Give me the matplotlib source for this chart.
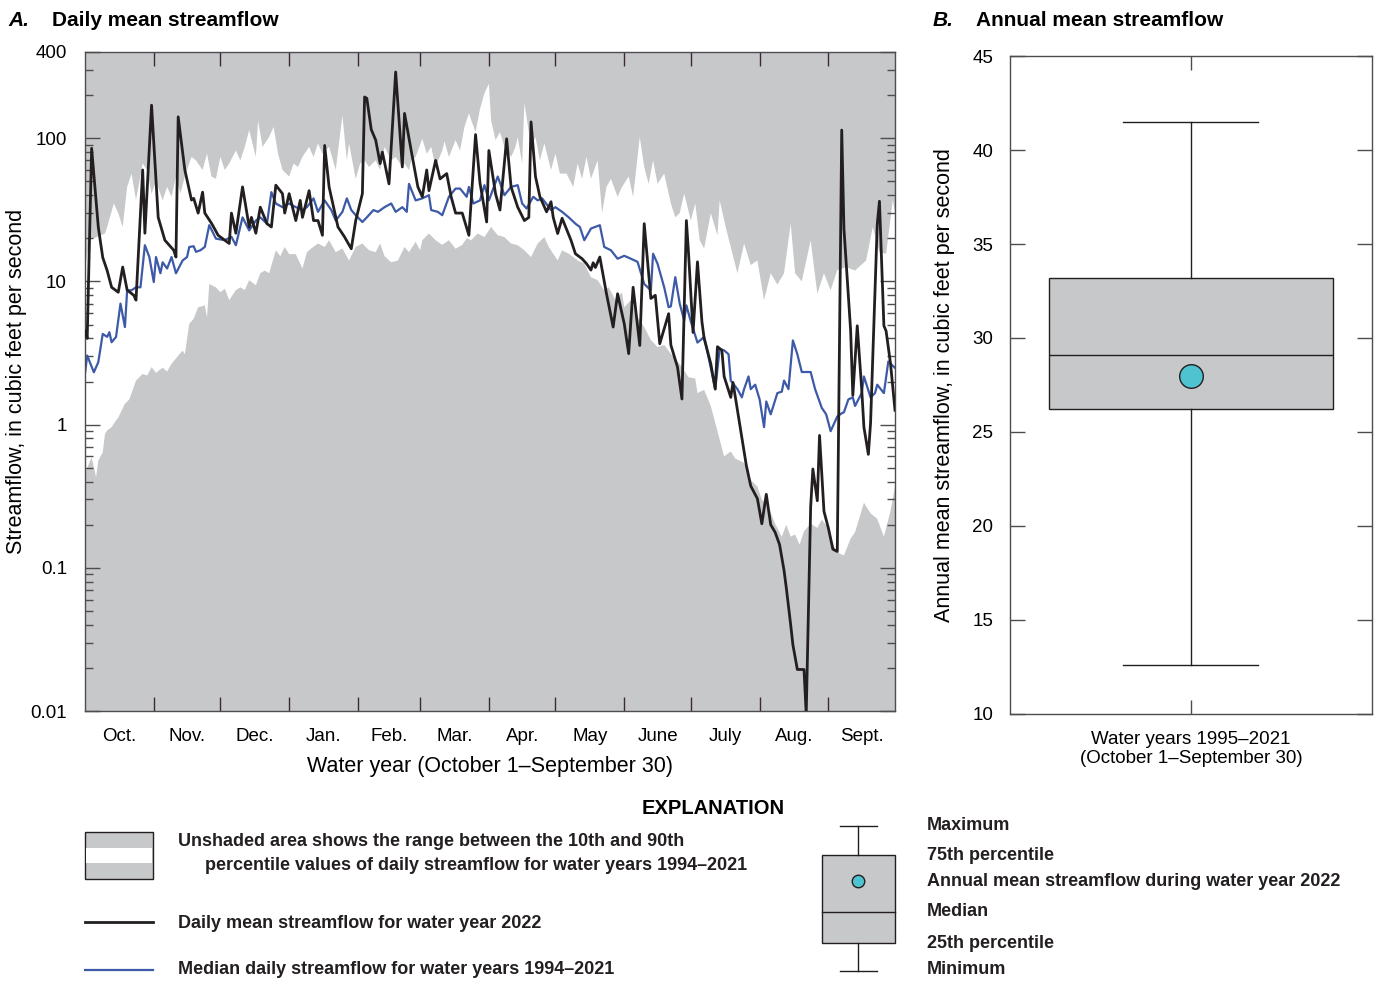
import matplotlib
matplotlib.use('Agg')
import matplotlib.pyplot as plt
import numpy as np
from matplotlib.patches import Rectangle
from matplotlib.ticker import FixedLocator, NullFormatter, LogLocator

plt.rcParams['font.family'] = ['Liberation Sans', 'DejaVu Sans']

# ---------------------------------------------------------------- data
# day of water year (0 = Oct 1) and flow (ft3/s)
day_2022 = [0, 1, 3, 6, 8, 10, 12, 15, 17, 19, 22, 23, 26, 27, 30, 33, 36, 40, 41, 42,
            45, 48, 49, 51, 53, 54, 57, 60, 65, 66, 68, 71, 74, 75, 77, 79, 82, 84, 86, 89,
            90, 92, 95, 97, 98, 101, 103, 105, 107, 108, 110, 114, 117, 120, 122, 125, 126, 127, 129, 131,
            133, 134, 137, 140, 143, 144, 147, 150, 152, 154, 155, 158, 160, 163, 165, 167, 170, 173, 176, 178,
            181, 182, 185, 187, 190, 192, 195, 198, 200, 201, 203, 205, 208, 210, 211, 213, 215, 219, 221, 224,
            226, 228, 229, 230, 232, 235, 238, 240, 243, 245, 247, 250, 252, 255, 257, 259, 263, 264, 267, 269,
            271, 272, 274, 276, 278, 279, 282, 284, 285, 287, 288, 291, 292, 294, 297, 298, 300, 303, 305, 307,
            309, 311, 313, 315, 316, 318, 319, 321, 324, 325, 327, 328, 330, 331, 333, 335, 337, 339, 341, 342,
            345, 346, 348, 350, 351, 353, 354, 357, 358, 360, 361, 363, 365]
flow_2022 = [4.5, 4.0, 85, 24, 14.7, 11.9, 9.1, 8.4, 12.6, 8.7, 8.0, 7.4, 60, 21.7, 170, 28, 19.4, 16.5, 14.8, 141,
             60, 37, 38, 30, 42, 30, 25.5, 21, 18.4, 30, 21.7, 45.7, 24, 28, 21.7, 33, 25.3, 24, 47, 41,
             30, 41, 26.6, 36.8, 28, 43, 26.6, 26.6, 21, 89, 45.7, 24, 20.4, 16.9, 26.6, 41, 194, 190, 115, 97,
             66.5, 80, 48, 290, 63, 149, 82, 45.7, 39, 60, 43, 70, 52, 56.6, 39, 30, 30, 21, 106, 48.6,
             26, 82, 41, 31.5, 99, 45.7, 33, 26.6, 28, 130, 54, 39, 30.6, 36, 28, 21.6, 27.6, 19.4, 15.6, 14.4,
             13.3, 12, 13.5, 12.5, 14.8, 8.2, 4.8, 8.2, 5.06, 3.13, 9.1, 3.57, 25.3, 7.6, 8.0, 3.67, 5.95, 3.6, 2.52, 1.51,
             26.6, 15.5, 4.4, 13.7, 5.25, 4.0, 2.66, 1.77, 3.5, 3.3, 2.17, 1.55, 1.97, 1.26, 0.64, 0.52, 0.373, 0.304, 0.203, 0.326,
             0.2, 0.177, 0.145, 0.096, 0.073, 0.040, 0.029, 0.0195, 0.0195, 0.0095, 0.266, 0.49, 0.294, 0.84, 0.248, 0.189, 0.135, 0.13, 114, 23.3,
             4.58, 1.6, 4.9, 1.77, 0.96, 0.62, 1.03, 25, 36.3, 4.9, 4.5, 2.66, 1.26]

day_med = [0, 1, 4, 6, 8, 10, 11, 12, 14, 16, 18, 19, 21, 23, 25, 27, 29, 31, 32, 34,
           35, 37, 39, 41, 44, 46, 47, 49, 50, 52, 54, 56, 59, 63, 66, 68, 71, 74, 77, 79,
           82, 84, 86, 89, 92, 95, 98, 100, 103, 105, 108, 111, 113, 116, 118, 120, 122, 125, 127, 130,
           132, 135, 138, 140, 143, 145, 146, 149, 152, 155, 156, 159, 161, 164, 167, 169, 172, 173, 175, 178,
           180, 182, 186, 189, 192, 195, 197, 199, 202, 204, 206, 210, 212, 215, 218, 221, 223, 225, 228, 232,
           234, 237, 240, 243, 246, 249, 252, 255, 256, 258, 261, 263, 264, 266, 268, 270, 271, 273, 276, 279,
           280, 282, 284, 286, 288, 290, 291, 294, 296, 297, 299, 300, 302, 304, 306, 307, 309, 312, 314, 315,
           317, 319, 321, 323, 327, 329, 332, 334, 336, 339, 341, 342, 344, 346, 347, 350, 351, 354, 356, 357,
           360, 362, 365]
flow_med = [2.27, 3.04, 2.32, 2.73, 4.3, 4.1, 4.42, 3.76, 4.1, 7.0, 4.8, 8.67, 8.67, 9.1, 9.1, 17.9, 14.8, 9.9, 14.8, 11.4,
            13.6, 12.3, 14.8, 11.4, 14, 14.8, 17.4, 17.6, 16.1, 16.5, 17.4, 24.7, 19.9, 19.4, 20.5, 17.9, 28, 22.7, 26.6, 28,
            25.3, 42, 35, 33, 35, 33, 31.5, 33, 38, 30.6, 36.8, 31.5, 26.6, 30.6, 38, 31.5, 29, 26, 28, 31.5,
            30.6, 33, 35, 30.6, 33, 30.6, 48, 36.8, 38, 40, 31.5, 30.6, 29, 39, 44.5, 44.5, 39, 45.7, 35, 36.8,
            47, 36.8, 54, 40, 45.7, 47, 35, 32.3, 39, 36.8, 38, 31.5, 33, 30.6, 28, 25.3, 24, 19.4, 23.4, 24.7,
            17.4, 16.5, 14.4, 15.1, 14.4, 13.7, 9.6, 8.67, 15.6, 13.3, 9.1, 6.6, 6.7, 10.7, 7.0, 5.34, 6.8, 5.25, 3.74, 4.1,
            3.5, 2.49, 1.77, 3.38, 3.3, 3.1, 2.03, 1.77, 1.55, 1.77, 2.17, 1.77, 1.9, 1.5, 0.96, 1.45, 1.18, 1.66, 1.7, 2.03,
            1.77, 3.87, 3.1, 2.33, 2.33, 1.77, 1.31, 1.18, 0.90, 1.14, 1.2, 1.22, 1.5, 1.55, 1.35, 1.66, 2.17, 1.55, 1.66, 1.9,
            1.66, 2.76, 2.49]

day_p90 = [0, 2, 4, 9, 10, 13, 15, 17, 19, 21, 23, 26, 28, 30, 32, 35, 37, 39, 41, 43,
           45, 48, 50, 53, 55, 57, 59, 61, 63, 65, 68, 70, 72, 74, 77, 78, 80, 83, 85, 87,
           89, 92, 93, 94, 96, 98, 101, 103, 105, 107, 110, 113, 116, 118, 119, 122, 124, 126, 128, 131,
           133, 135, 138, 140, 143, 144, 146, 147, 149, 152, 154, 156, 158, 161, 162, 164, 167, 169, 171, 173,
           176, 178, 180, 182, 183, 185, 187, 189, 192, 194, 195, 197, 198, 201, 203, 205, 207, 210, 212, 214,
           217, 220, 222, 224, 226, 228, 231, 233, 235, 237, 240, 242, 245, 247, 250, 252, 254, 256, 258, 261,
           264, 266, 268, 270, 273, 275, 277, 279, 282, 285, 286, 289, 294, 297, 300, 303, 306, 309, 312, 315,
           318, 320, 323, 327, 330, 333, 336, 339, 343, 347, 352, 355, 358, 361, 364, 365]
flow_p90 = [12, 20, 20, 21.6, 24, 35, 30, 24, 45.7, 56.6, 37, 66.6, 60, 41, 50, 36.8, 45.7, 39, 54, 41,
            54, 74, 70, 60, 78, 54, 52, 74, 60, 66.6, 82, 70, 87, 114, 74, 133, 87, 102, 120, 78,
            60, 54, 60, 66.6, 63, 74, 87, 74, 92, 78, 87, 60, 144, 70, 92, 52, 66.6, 70, 63, 70,
            60, 87, 70, 74, 63, 66.6, 60, 70, 74, 99, 78, 87, 63, 82, 95, 74, 97, 82, 120, 149,
            110, 160, 206, 240, 133, 97, 110, 87, 74, 87, 102, 66.6, 176, 87, 102, 70, 92, 60, 78, 56.6,
            56.6, 45.7, 66.6, 52, 74, 52, 70, 30, 45.7, 52, 39, 45.7, 54, 39, 102, 63, 48, 70, 48, 56.6,
            35, 28, 30, 41, 26.6, 35, 19.4, 17, 30, 21, 36.8, 23, 11.4, 18.4, 13, 14, 7.4, 11.4, 9.5, 11.4,
            25.3, 11.4, 10, 19.4, 8.2, 11.4, 8.67, 12, 12.6, 11.9, 14, 24, 16, 15.6, 36.8, 30]

day_p10 = [0, 1, 3, 5, 6, 8, 9, 10, 12, 14, 15, 18, 20, 23, 26, 28, 30, 32, 35, 37,
           39, 41, 44, 45, 47, 49, 51, 54, 55, 56, 59, 61, 63, 65, 68, 70, 72, 74, 77, 79,
           81, 83, 86, 88, 90, 92, 95, 98, 100, 102, 105, 108, 110, 113, 116, 119, 122, 125, 128, 131,
           133, 135, 138, 141, 144, 146, 149, 151, 152, 155, 158, 161, 164, 167, 170, 172, 174, 177, 180, 183,
           186, 189, 192, 195, 198, 201, 204, 207, 209, 211, 213, 215, 218, 220, 222, 225, 228, 231, 234, 236,
           239, 242, 243, 246, 249, 252, 255, 258, 261, 264, 266, 269, 272, 275, 276, 279, 282, 285, 288, 291,
           293, 297, 300, 303, 305, 308, 311, 314, 316, 318, 320, 322, 324, 327, 330, 332, 335, 338, 340, 342,
           345, 347, 351, 354, 357, 360, 363, 365]
flow_p10 = [0.45, 0.50, 0.59, 0.43, 0.56, 0.64, 0.86, 0.91, 0.96, 1.07, 1.12, 1.4, 1.5, 2.03, 2.26, 2.2, 2.52, 2.3, 2.5, 2.35,
            2.66, 2.9, 3.29, 3.1, 5.06, 5.5, 6.6, 6.8, 5.6, 9.6, 9.1, 8.4, 8.9, 7.4, 8.7, 9.1, 8.7, 10.2, 9.4, 11.4,
            11.9, 11.4, 16.5, 15, 17.4, 15.5, 15.5, 12.3, 16, 17, 18.4, 17.4, 19.4, 16, 17, 14, 17.4, 18.4, 16.5, 16,
            18.4, 15, 13.6, 14, 17.4, 16, 18.9, 16.5, 19.4, 21.6, 19.4, 18, 19.4, 16.9, 18, 20, 19.4, 21.6, 20.4, 24,
            21, 20.4, 18.4, 17.9, 16.5, 14.8, 18.4, 20.4, 17.4, 15.6, 14, 16.5, 15.6, 14.8, 14, 13.3, 10.7, 10.2, 8.67, 9.1,
            7.4, 8.4, 6.6, 7.4, 5.6, 4.8, 3.9, 3.48, 3.6, 3.13, 2.9, 2.52, 2.14, 2.1, 1.66, 1.75, 1.35, 0.90, 0.60, 0.65,
            0.58, 0.54, 0.41, 0.37, 0.30, 0.266, 0.203, 0.165, 0.2, 0.165, 0.171, 0.145, 0.18, 0.203, 0.19, 0.217, 0.19, 0.135, 0.126, 0.122,
            0.16, 0.177, 0.285, 0.24, 0.22, 0.165, 0.25, 0.373]

month_names = ['Oct.', 'Nov.', 'Dec.', 'Jan.', 'Feb.', 'Mar.', 'Apr.', 'May', 'June', 'July', 'Aug.', 'Sept.']
month_days = [31, 30, 31, 31, 28, 31, 30, 31, 30, 31, 31, 30]

# annual mean streamflow, water years 1995-2021
box_stats = dict(whislo=12.6, q1=26.2, med=29.1, q3=33.2, whishi=41.5, mean=28.0)
box_label = 'Water years 1995\u20132021\n(October 1\u2013September 30)'

# ---------------------------------------------------------------- style
gray = '#c7c8ca'
black = '#231f20'
blue = '#3d5aa8'
cyan = '#4fc3cf'
spine_c = '#4d4d4f'
tick_fs = 13.5
lab_fs = 15.5
title_fs = 15
lg_fs = 13

fig = plt.figure(figsize=(13.75, 9.81), dpi=100)

# ---------------------------------------------------------------- A
ax = fig.add_axes([0.0618, 0.2752, 0.5891, 0.6718])
ax.set_facecolor(gray)
ax.set_yscale('log')
ax.set_xlim(0, 365)
ax.set_ylim(0.01, 400)

poly_x = np.concatenate([day_p90, day_p10[::-1]])
poly_y = np.concatenate([flow_p90, flow_p10[::-1]])
ax.fill(poly_x, poly_y, color='white', lw=0, zorder=1)
ax.plot(day_med, flow_med, color=blue, lw=1.6, zorder=2)
ax.plot(day_2022, flow_2022, color=black, lw=2.0, zorder=3)

bounds = np.cumsum([0] + month_days)
mids = (bounds[:-1] + bounds[1:]) / 2
ax.xaxis.set_major_locator(FixedLocator(bounds[1:-1]))
ax.xaxis.set_major_formatter(NullFormatter())
ax.xaxis.set_minor_locator(FixedLocator(mids))
ax.set_xticklabels(month_names, minor=True)
ax.tick_params(axis='x', which='major', direction='in', length=10, width=1, top=True, color='#3a2a3a')
ax.tick_params(axis='x', which='minor', length=0, pad=12, labelsize=tick_fs)

ax.yaxis.set_major_locator(FixedLocator([0.01, 0.1, 1, 10, 100, 400]))
ax.set_yticklabels(['0.01', '0.1', '1', '10', '100', '400'])
ax.yaxis.set_minor_locator(LogLocator(base=10, subs=np.arange(2, 10)))
ax.yaxis.set_minor_formatter(NullFormatter())
ax.tick_params(axis='y', which='major', direction='in', length=11, width=1, right=True,
               labelsize=tick_fs, color=spine_c, pad=13)
ax.tick_params(axis='y', which='minor', direction='in', length=6, width=1, right=True, color=spine_c)
for s in ax.spines.values():
    s.set_color(spine_c)
    s.set_linewidth(1)

ax.set_ylabel('Streamflow, in cubic feet per second', fontsize=lab_fs)
ax.yaxis.set_label_coords(-0.0716, 0.5)
ax.set_xlabel('Water year (October 1\u2013September 30)', fontsize=lab_fs, labelpad=8)

# ---------------------------------------------------------------- B
bx = fig.add_axes([0.7345, 0.2722, 0.2633, 0.6707])
stats = [dict(box_stats, label=box_label)]
bx.bxp(stats, positions=[0.5], widths=0.784, capwidths=0.373, showmeans=True,
       patch_artist=True, showfliers=False,
       boxprops=dict(facecolor=gray, edgecolor=black, linewidth=1),
       medianprops=dict(color=black, linewidth=1),
       whiskerprops=dict(color=black, linewidth=1),
       capprops=dict(color=black, linewidth=1),
       meanprops=dict(marker='o', markerfacecolor=cyan, markeredgecolor=black,
                      markersize=17, markeredgewidth=1))
bx.set_xlim(0, 1)
bx.set_ylim(10, 45)
bx.set_yticks(np.arange(10, 46, 5))
bx.tick_params(axis='y', direction='in', length=11, width=1, right=True, labelsize=tick_fs,
               color=spine_c, pad=12)
bx.tick_params(axis='x', direction='in', length=10, width=1, top=True, labelsize=tick_fs,
               color=spine_c, pad=12)
for s in bx.spines.values():
    s.set_color(spine_c)
    s.set_linewidth(1)
bx.set_ylabel('Annual mean streamflow, in cubic feet per second', fontsize=lab_fs)
bx.yaxis.set_label_coords(-0.152, 0.5)

# ---------------------------------------------------------------- titles and explanation
ov = fig.add_axes([0, 0, 1, 1], zorder=-1)
ov.set_xlim(0, 1375)
ov.set_ylim(981, 0)
ov.axis('off')

ov.text(8, 20, 'A.', fontsize=title_fs, fontweight='bold', fontstyle='italic', va='center')
ov.text(52, 20, 'Daily mean streamflow', fontsize=title_fs, fontweight='bold', va='center')
ov.text(933, 20, 'B.', fontsize=title_fs, fontweight='bold', fontstyle='italic', va='center')
ov.text(976, 20, 'Annual mean streamflow', fontsize=title_fs, fontweight='bold', va='center')

ov.text(713, 808, 'EXPLANATION', fontsize=14.5, fontweight='bold', ha='center', va='center')

ov.add_patch(Rectangle((85, 832), 68, 47, facecolor=gray, edgecolor=black, lw=1))
ov.add_patch(Rectangle((86, 848), 66, 15, facecolor='white', edgecolor='none'))
ov.text(178, 842, 'Unshaded area shows the range between the 10th and 90th',
        fontsize=lg_fs, fontweight='bold', va='center', color=black)
ov.text(205, 866, 'percentile values of daily streamflow for water years 1994\u20132021',
        fontsize=lg_fs, fontweight='bold', va='center', color=black)
ov.plot([85, 153], [922, 922], color=black, lw=2.0)
ov.text(178, 923, 'Daily mean streamflow for water year 2022',
        fontsize=lg_fs, fontweight='bold', va='center', color=black)
ov.plot([85, 153], [970, 970], color=blue, lw=1.6)
ov.text(178, 970, 'Median daily streamflow for water years 1994\u20132021',
        fontsize=lg_fs, fontweight='bold', va='center', color=black)

# box symbol
ov.plot([858, 858], [826, 855], color=black, lw=1)
ov.plot([858, 858], [943, 971], color=black, lw=1)
ov.plot([840, 877], [826, 826], color=black, lw=1)
ov.plot([840, 877], [971, 971], color=black, lw=1)
ov.add_patch(Rectangle((822, 855), 73, 88, facecolor=gray, edgecolor=black, lw=1))
ov.plot([822, 895], [912, 912], color=black, lw=1)
ov.plot([858], [881], marker='o', markersize=9, markerfacecolor=cyan, markeredgecolor=black,
        markeredgewidth=1)
box_texts = ['Maximum', '75th percentile', 'Annual mean streamflow during water year 2022',
             'Median', '25th percentile', 'Minimum']
box_ys = [826, 855, 881, 912, 943, 970]
for t, yy in zip(box_texts, box_ys):
    ov.text(927, yy, t, fontsize=lg_fs, fontweight='bold', va='center', color=black)

fig.savefig('out.png', dpi=100)
